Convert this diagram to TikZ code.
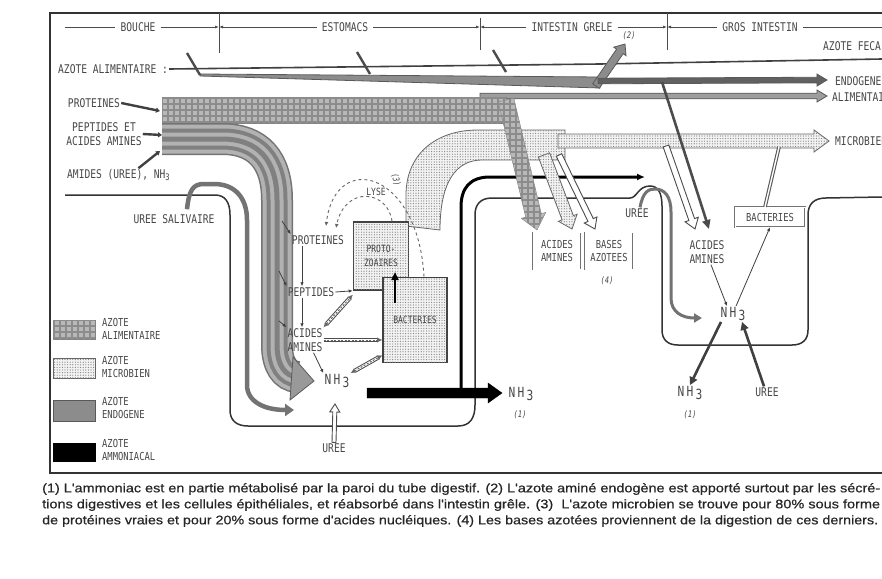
\documentclass[tikz,border=0pt]{standalone}
\usepackage{fontspec}
\usetikzlibrary{arrows.meta,patterns.meta,calc}
\newfontfamily\lettering[FakeStretch=0.8]{DejaVu Sans Mono}
\newfontfamily\notefont[FakeBold=0.5]{Liberation Sans}
\newcommand{\NHt}{N\,H\,\raisebox{-3pt}{3}}
% fat arrow: style, from, to, half width, half head width, head length
\newcommand{\fatarrow}[6]{%
  \path[#1] let \p1=($(#3)-(#2)$), \n1={atan2(\y1,\x1)}, \n2={veclen(\x1,\y1)} in
    [shift={(#2)}, rotate=\n1]
    (0pt,#4) -- (\n2-#6,#4) -- (\n2-#6,#5) -- (\n2,0pt) -- (\n2-#6,-#5)
    -- (\n2-#6,-#4) -- (0pt,-#4) -- cycle;}

\begin{document}
\begin{tikzpicture}[x=1pt, y=-1pt,
  font=\lettering\fontsize{12}{14}\selectfont,
  lab/.style={text=black!72, inner sep=1pt, align=center},
  hdr/.style={lab, inner sep=5pt},
  tag/.style={lab, font=\lettering\fontsize{9}{9}\selectfont\itshape},
  big/.style={lab, font=\lettering\fontsize{14}{14}\selectfont},
  leg/.style={lab, anchor=west, align=left, font=\lettering\fontsize{11}{13}\selectfont},
  note/.style={anchor=west, inner sep=0pt, font=\notefont, text=black!85},
  hline/.style={line width=0.9pt, black!70},
  wall/.style={line width=1.5pt, black!80},
  alim/.style={fill=black!28, draw=black!50, postaction={pattern={Hatch[angle=0,distance=6pt,line width=1.1pt]}, pattern color=black!45}},
  micro/.style={fill=black!5, draw=black!60, line width=0.8pt, postaction={pattern={Dots[distance=2.6pt,radius=0.6pt]}, pattern color=black!50}},
  endo/.style={fill=black!45, draw=black!65, line width=0.8pt},
  ammo/.style={fill=black, draw=black},
  hollow/.style={fill=white, draw=black!70, line width=0.9pt},
  small/.style={line width=0.8pt, black!75, -{Latex[length=4pt,width=3.5pt]}},
  point/.style={line width=2.4pt, black!75, -{Triangle[length=4pt,width=5pt]}},
  lyse/.style={dashed, line width=0.9pt, black!60, -{Latex[length=4pt,width=4pt]}},
  mflow/.style={line width=1pt, black!60, dash pattern=on 2pt off 1.5pt,
    preaction={draw, solid, black!70, line width=4.2pt},
    preaction={draw, solid, white, line width=2.2pt}},
  tube/.style={line width=3.6pt, black!65, postaction={draw, white, line width=1.4pt}},
  sbox/.style={lab, draw=black!55, double=white, double distance=1pt, inner sep=2pt, font=\lettering\fontsize{11}{13}\selectfont},
  mbox/.style={lab, micro, line width=1.6pt, draw=black!75, font=\lettering\fontsize{10}{14}\selectfont},
]
\path[use as bounding box, fill=white] (0,0) rectangle (882,578);
\clip (0,0) rectangle (882,578);

% ---- frame and header ----
\draw[line width=1.8pt, black!80] (890,13) -- (50,13) -- (50,473) -- (890,473);
\node[hdr] (bouche) at (138,27) {BOUCHE};
\node[hdr] (estom) at (345,27) {ESTOMACS};
\node[hdr] (grele) at (572,27) {INTESTIN GRELE};
\node[hdr] (gros) at (760,27) {GROS INTESTIN};
\coordinate (h0) at (65,27);
\coordinate (d1) at (219,27);
\coordinate (d2) at (480,27);
\coordinate (d3) at (667,27);
\coordinate (h9) at (882,27);
\draw[hline] (219,13) -- (219,53) (480,18) -- (480,50) (667,13) -- (667,50);
\draw[hline] (h0) -- (bouche) (gros) -- (h9);
\draw[hline, -{Latex[length=4pt]}] (bouche) -- (d1);
\draw[hline, -{Latex[length=4pt]}] (estom) -- (d1);
\draw[hline, -{Latex[length=4pt]}] (estom) -- (d2);
\draw[hline, -{Latex[length=4pt]}] (grele) -- (d2);
\draw[hline, -{Latex[length=4pt]}] (grele) -- (d3);
\draw[hline, -{Latex[length=4pt]}] (gros) -- (d3);

% ---- left labels ----
\node[lab, anchor=west] (azal) at (57,69) {AZOTE ALIMENTAIRE :};
\node[lab] (lprot) at (94,103) {PROTEINES};
\node[lab] (lpept) at (104,134) {PEPTIDES ET\\ACIDES AMINES};
\node[lab, anchor=west] (lamid) at (66,175) {AMIDES (UREE), NH\raisebox{-2pt}{\fontsize{9}{9}\selectfont 3}};
\coordinate (p1) at (160,111);
\coordinate (p2) at (162,135);
\coordinate (p3) at (160,151);
\draw[point] (lprot.east) -- (p1);
\draw[point] (lpept.east) -- (p2);
\draw[point] ([xshift=20pt]lamid.north) -- (p3);

% ---- walls of the tract ----
\draw[wall] (65,195) -- (215,195) .. controls (225,195) and (230,202) .. (230,215) -- (230,410)
  .. controls (230,420) and (236,426) .. (248,426) -- (458,426) .. controls (470,426) and (475,418) .. (475,405)
  -- (475,215) .. controls (475,205) and (480,198) .. (492,198) -- (630,198)
  .. controls (637,198) and (638,186) .. (650,186) .. controls (658,186) and (662,193) .. (662,206)
  -- (662,330) .. controls (662,340) and (668,345) .. (678,345) -- (792,345)
  .. controls (802,345) and (808,340) .. (808,330) -- (808,215) .. controls (808,204) and (814,198) .. (826,198) -- (882,197);

% ---- faecal line and secretions ----
\coordinate (f1) at (600,64);
\coordinate (f2) at (882,59);
\draw[line width=1.6pt, black!75] (azal.east) -- (f1) -- (f2);
\path[endo] (200,74) -- (600,77) -- (600,88) -- (200,76) -- cycle;
\foreach \a/\b in {187/53, 357/52, 493/50}
  \draw[line width=2.4pt, black!70] (\a,\b) -- ++(13,22);
\coordinate (r0) at (596,86);
\coordinate (r1) at (625,44);
\fatarrow{endo}{r0}{r1}{4pt}{7.5pt}{9pt}
\node[tag] (n2) at (629,36) {(2)};
\coordinate (e0) at (598,81);
\coordinate (e1) at (827,80);
\fatarrow{endo, fill=black!62}{e0}{e1}{2.8pt}{6pt}{10pt}
\coordinate (a0) at (480,96);
\coordinate (a1) at (827,96);
\fatarrow{endo, fill=black!38}{a0}{a1}{2.8pt}{6pt}{10pt}
\node[lab, anchor=west] (lfec) at (822,46) {AZOTE FECAL};
\node[lab, anchor=west] (lend) at (834,81) {ENDOGENE};
\node[lab, anchor=west] (lali) at (831,97) {ALIMENTAIRE};
\node[lab, anchor=west] (lmic) at (834,141) {MICROBIEN};

% ---- saliva urea and ammonia ----
\node[lab] (lsal) at (174,219) {UREE SALIVAIRE};
\coordinate (s1) at (294,410);
\draw[line width=4.5pt, black!55, -{Triangle[length=9pt,width=12pt]}] ([xshift=13pt,yshift=4pt]lsal.north)
  .. controls (189,190) and (193,184) .. (204,184) -- (214,184) .. controls (235,184) and (247,198) .. (247,220)
  -- (247,385) .. controls (247,402) and (265,410) .. (s1);
\coordinate (kv) at (461,393);
\coordinate (kt) at (645,177);
\draw[line width=3pt, black, -{Latex[length=8pt,width=7pt]}] (kv) -- (461,207)
  .. controls (461,188) and (470,177) .. (490,177) -- (kt);
\node[lab] (lur3) at (637,213) {UREE};
\coordinate (ut) at (702,318);
\draw[line width=3pt, black!55, -{Triangle[length=8pt,width=9pt]}] ([xshift=3pt]lur3.north)
  .. controls (643,192) and (648,189) .. (655,189) .. controls (665,189) and (671,197) .. (671,212)
  -- (671,298) .. controls (671,312) and (682,318) .. (ut);

% ---- alimentary band ----
\path[alim] (162,97) rectangle (506,123);
\foreach \w/\c in {32/black!55, 29/black!30, 21/black!50, 13/black!30, 5/black!50}
  \draw[line width=\w pt, \c] (162,139) -- (222,139) .. controls (258,139) and (277,160) .. (277,200)
    -- (277,345) .. controls (277,365) and (285,376) .. (297,377);
\path[endo, fill=black!40] (293,357) -- (314,381) -- (290,400) -- cycle;

% ---- microbial band ----
\path[micro] (406,226) -- (406,195) .. controls (406,155) and (435,130) .. (478,130) -- (565,130)
  -- (565,160) -- (482,160) .. controls (456,160) and (440,182) .. (440,230) -- cycle;
\coordinate (m0) at (558,141);
\coordinate (m1) at (829,141);
\fatarrow{micro}{m0}{m1}{7pt}{11pt}{15pt}
\node[tag, rotate=-75] (n3) at (396,180) {(3)};

% ---- arrows into the intestines ----
\coordinate (q2) at (559,155);
\coordinate (q3) at (595,229);
\fatarrow{hollow}{q2}{q3}{3pt}{7pt}{10pt}
\coordinate (q0) at (544,155);
\coordinate (q1) at (572,229);
\fatarrow{micro}{q0}{q1}{6pt}{10pt}{12pt}
\coordinate (g0) at (506,100);
\coordinate (g1) at (537,230);
\fatarrow{alim}{g0}{g1}{8pt}{12.5pt}{15pt}
\coordinate (q4) at (666,146);
\coordinate (q5) at (695,229);
\fatarrow{hollow}{q4}{q5}{3pt}{7pt}{10pt}
\coordinate (v0) at (662,82);
\coordinate (v1) at (709,229);
\draw[line width=2.6pt, black!70, -{Triangle[length=9pt,width=8pt]}] (v0) -- (v1);

% ---- rumen ----
\node[mbox, minimum width=55pt, minimum height=68pt] (proto) at (381,256) {PROTO-\\ZOAIRES};
\node[mbox, minimum width=64pt, minimum height=85pt] (bact) at (415,320) {BACTERIES};
\node[lab] (prot) at (318,240) {PROTEINES};
\node[lab] (pept) at (311,292) {PEPTIDES};
\node[lab] (aa) at (305,340) {ACIDES\\AMINES};
\node[big] (nh) at (337,381) {\NHt};
\node[lab] (lur1) at (334,448) {UREE};
\node[lab, font=\lettering\fontsize{10}{10}\selectfont] (lyse) at (376,192) {LYSE};
\coordinate (y1) at (326,226);
\coordinate (y2) at (336,228);
\draw[lyse] ([xshift=9pt]bact.north) .. controls (418,170) and (335,150) .. (y1);
\draw[lyse] ([xshift=11pt]proto.north) .. controls (388,190) and (345,185) .. (y2);
\coordinate (b1) at (282,221);
\coordinate (b2) at (279,271);
\coordinate (b3) at (279,321);
\draw[small] (b1) -- (prot.north west);
\draw[small] (b2) -- (pept.north west);
\draw[small] (b3) -- (aa.north west);
\draw[small] ([xshift=-16pt]prot.south) -- ([xshift=-9pt]pept.north);
\draw[small] ([xshift=-9pt]pept.south) -- ([xshift=-3pt]aa.north);
\draw[small] ([xshift=-10pt]aa.south east) -- (nh.north west);
\draw[small] (pept.east) -- (proto.south west);
\draw[mflow, {Latex[length=5pt,width=5pt]}-{Latex[length=5pt,width=5pt]}] (aa.north east) -- ([yshift=-4pt]proto.south west);
\draw[mflow, -{Latex[length=5pt,width=5pt]}] (aa.east) -- (bact.west |- aa.east);
\draw[mflow, {Latex[length=5pt,width=5pt]}-{Latex[length=5pt,width=5pt]}] (nh.north east) -- ([yshift=8pt]bact.south west);
\coordinate (up0) at (395,303);
\coordinate (up1) at (395,272);
\draw[line width=2.5pt, black, -{Triangle[length=8pt,width=7pt]}] (up0) -- (up1);
\coordinate (u1) at (335,404);
\fatarrow{hollow}{lur1.north}{u1}{2pt}{5pt}{8pt}
\coordinate (k0) at (367,393);
\coordinate (k1) at (502,393);
\fatarrow{ammo}{k0}{k1}{5pt}{10pt}{14pt}

% ---- small intestine ----
\node[sbox, minimum width=48pt, minimum height=37pt] (aa2) at (557,251) {ACIDES\\AMINES};
\node[sbox, minimum width=48pt, minimum height=37pt] (bases) at (609,251) {BASES\\AZOTEES};
\node[tag] (n4) at (607,281) {(4)};
\node[big] (nh2) at (521,394) {\NHt};
\node[tag] (n1a) at (520,415) {(1)};

% ---- large intestine ----
\node[lab] (aa3) at (707,252) {ACIDES\\AMINES};
\node[sbox, minimum width=70pt, minimum height=20pt] (bact2) at (770,217) {BACTERIES};
\node[big] (nh3) at (733,314) {\NHt};
\node[big] (nh4) at (690,393) {\NHt};
\node[tag] (n1b) at (690,415) {(1)};
\node[lab] (lur2) at (767,392) {UREE};
\coordinate (t1) at (779,147);
\draw[tube] ([xshift=-5pt]bact2.north) -- (t1);
\draw[small] ([xshift=4pt]aa3.south) -- ([xshift=-6pt]nh3.north);
\draw[small] ([xshift=3pt]nh3.north) -- (bact2.south);
\draw[line width=2.6pt, black!75, -{Triangle[length=8pt,width=8pt]}] ([xshift=-12pt]nh3.south) -- (nh4.north);
\draw[line width=2.6pt, black!75, -{Triangle[length=8pt,width=8pt]}] ([xshift=-3pt]lur2.north) -- ([xshift=9pt]nh3.south);

% ---- legend ----
\path[alim] (53,320) rectangle (95,339);
\node[leg] (lg1) at (101,329) {AZOTE\\ALIMENTAIRE};
\path[micro] (53,358) rectangle (95,378);
\node[leg] (lg2) at (101,367) {AZOTE\\MICROBIEN};
\path[endo] (53,400) rectangle (95,421);
\node[leg] (lg3) at (101,408) {AZOTE\\ENDOGENE};
\path[ammo] (53,443) rectangle (95,461);
\node[leg] (lg4) at (101,450) {AZOTE\\AMMONIACAL};

% ---- notes ----
\node[note] (fn1) at (42,489) {\resizebox{838pt}{9.2pt}{(1) L'ammoniac est en partie métabolisé par la paroi du tube digestif. (2) L'azote aminé endogène est apporté surtout par les sécré-}};
\node[note] (fn2) at (42,505) {\resizebox{838pt}{9.2pt}{tions digestives et les cellules épithéliales, et réabsorbé dans l'intestin grêle. (3)\ \ L'azote microbien se trouve pour 80\% sous forme}};
\node[note] (fn3) at (42,521) {\resizebox{836pt}{9.2pt}{de protéines vraies et pour 20\% sous forme d'acides nucléiques. (4) Les bases azotées proviennent de la digestion de ces derniers.}};
\end{tikzpicture}
\end{document}
